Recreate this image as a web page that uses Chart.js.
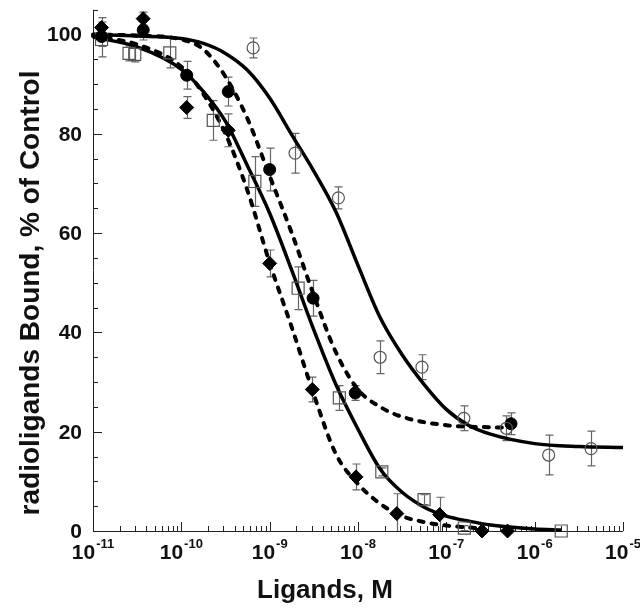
<!DOCTYPE html>
<html>
<head>
<meta charset="utf-8">
<script src="https://cdn.jsdelivr.net/npm/chart.js@4.4.0/dist/chart.umd.min.js"></script>
<style>
  body { margin: 0; background: #fff; }
  #wrap { width: 640px; height: 610px; position: relative; }
</style>
</head>
<body>
<div id="wrap"><canvas id="chart"></canvas></div>
<script>
// measured points: concentration (M), bound (% of control), error (+/-)
const openCircleX = [6.5e-10, 1.94e-9, 6.0e-9, 1.78e-8, 5.3e-8, 1.58e-7, 4.78e-7, 1.44e-6, 4.35e-6];
const openCircleY = [97.3, 76.1, 67.1, 35.0, 33.0, 22.7, 20.7, 15.3, 16.6];
const openCircleErr = [2, 4, 2.2, 3.3, 2.5, 2.5, 2.5, 4, 3.5];

const filledCircleX = [1.25e-11, 3.7e-11, 1.15e-10, 3.4e-10, 1.0e-9, 3.1e-9, 9.3e-9, 5.4e-7];
const filledCircleY = [99.6, 100.9, 91.8, 88.5, 72.8, 46.9, 27.8, 21.6];
const filledCircleErr = [2, 2, 2.8, 2.9, 4.3, 3.6, 1.5, 2.2];

const squareX = [1.25e-11, 2.56e-11, 2.97e-11, 7.4e-11, 2.3e-10, 6.8e-10, 2.1e-9, 6.15e-9, 1.86e-8, 5.6e-8, 1.6e-7, 2.0e-6];
const squareY = [99, 96.2, 96, 96.3, 82.7, 70.4, 48.9, 26.8, 11.9, 6.3, 0.6, 0];
const squareErr = [3.5, 1.5, 1.5, 3, 4, 5, 4.3, 2.5, 0.8, 1, 0.5, 0];

const diamondX = [1.25e-11, 3.7e-11, 1.15e-10, 3.4e-10, 1.0e-9, 3.04e-9, 9.5e-9, 2.75e-8, 8.4e-8, 2.54e-7, 4.93e-7];
const diamondY = [101.4, 103.2, 85.3, 80.7, 53.9, 28.5, 10.9, 3.5, 3.3, 0, 0];
const diamondErr = [2, 1.3, 2.2, 3.3, 2.7, 2.5, 2.6, 4, 3.5, 0, 0];

// fitted curves
const fitOpenX = [1e-11, 3.16e-11, 1e-10, 1.78e-10, 3.16e-10, 5.62e-10, 1e-9, 1.78e-9, 3.16e-9, 5.62e-9, 1e-8, 1.78e-8, 3.16e-8, 5.62e-8, 1e-7, 1.78e-7, 3.16e-7, 1e-6, 3.16e-6, 1e-5];
const fitOpenY = [100, 99.7, 99.2, 98.2, 96.2, 92.8, 87.2, 79.8, 72.5, 64.3, 53.5, 43, 35.5, 29.5, 24.5, 21.3, 19.5, 17.6, 17, 16.8];

const fitFilledX = [1e-11, 3.16e-11, 1e-10, 1.78e-10, 3.16e-10, 5.62e-10, 1e-9, 1.78e-9, 3.16e-9, 5.62e-9, 1e-8, 1.78e-8, 3.16e-8, 1e-7, 3.16e-7, 5.4e-7];
const fitFilledY = [100, 99.8, 99, 97, 91.5, 83, 71.5, 60, 47.5, 36, 28.5, 25, 23, 21.3, 20.9, 20.8];

const fitSquareX = [1e-11, 3.16e-11, 1e-10, 1.78e-10, 3.16e-10, 5.62e-10, 1e-9, 1.78e-9, 3.16e-9, 5.62e-9, 1e-8, 1.78e-8, 3.16e-8, 5.62e-8, 1e-7, 1.78e-7, 3.16e-7, 1e-6, 2e-6];
const fitSquareY = [99.5, 97.5, 93, 88.5, 82.5, 73.5, 64, 52.5, 40.5, 29.5, 20.5, 12.5, 7.8, 4.8, 3, 2, 1.2, 0.4, 0.2];

const fitDiamondX = [1e-11, 3.16e-11, 1e-10, 1.78e-10, 3.16e-10, 5.62e-10, 1e-9, 1.78e-9, 3.16e-9, 5.62e-9, 1e-8, 1.78e-8, 3.16e-8, 5.62e-8, 1e-7, 2.2e-7];
const fitDiamondY = [99.7, 98, 93.5, 88, 80, 68.5, 54, 41, 27.5, 15.5, 9.5, 5.5, 3, 1.8, 1.1, 0.6];

const xDecades = [-11, -10, -9, -8, -7, -6, -5];
const yTicks = [0, 20, 40, 60, 80, 100];

const FONT = "'Liberation Sans', Arial, sans-serif";

function pts(xs, ys) {
  return xs.map((x, i) => ({ x: x, y: ys[i] }));
}

const errorSets = [
  { x: openCircleX, y: openCircleY, e: openCircleErr },
  { x: filledCircleX, y: filledCircleY, e: filledCircleErr },
  { x: squareX, y: squareY, e: squareErr },
  { x: diamondX, y: diamondY, e: diamondErr },
];

const axesPlugin = {
  id: "axes",
  beforeDatasetsDraw(chart) {
    const { ctx, chartArea: a, scales: { x, y } } = chart;
    ctx.save();
    ctx.strokeStyle = "#222";
    ctx.lineWidth = 1;
    ctx.beginPath();
    ctx.moveTo(a.left + 0.5, a.top);
    ctx.lineTo(a.left + 0.5, a.bottom + 0.5);
    ctx.lineTo(a.right, a.bottom + 0.5);
    ctx.stroke();

    // x ticks, pointing up into the plot
    ctx.beginPath();
    xDecades.forEach((d) => {
      const px = Math.round(x.getPixelForValue(Math.pow(10, d))) + 0.5;
      ctx.moveTo(px, a.bottom);
      ctx.lineTo(px, a.bottom - 9);
      if (d < -5) {
        for (let m = 2; m < 10; m++) {
          const mx = Math.round(x.getPixelForValue(m * Math.pow(10, d))) + 0.5;
          ctx.moveTo(mx, a.bottom);
          ctx.lineTo(mx, a.bottom - 5);
        }
      }
    });
    // y ticks, pointing right
    for (let v = 0; v <= 105; v += 5) {
      const py = Math.round(y.getPixelForValue(v)) + 0.5;
      ctx.moveTo(a.left, py);
      ctx.lineTo(a.left + (v % 20 === 0 ? 9 : 5), py);
    }
    ctx.stroke();

    // tick labels
    ctx.fillStyle = "#111";
    ctx.font = "bold 21px " + FONT;
    ctx.textAlign = "right";
    ctx.textBaseline = "middle";
    yTicks.forEach((v) => {
      ctx.fillText(String(v), 82, y.getPixelForValue(v) + 1);
    });
    ctx.textAlign = "left";
    ctx.textBaseline = "alphabetic";
    xDecades.forEach((d) => {
      const px = x.getPixelForValue(Math.pow(10, d));
      ctx.font = "bold 21px " + FONT;
      const w = ctx.measureText("10").width;
      ctx.font = "bold 13px " + FONT;
      const we = ctx.measureText(String(d)).width;
      const left = px - (w + 1 + we) / 2;
      ctx.font = "bold 21px " + FONT;
      ctx.fillText("10", left, 559);
      ctx.font = "bold 13px " + FONT;
      ctx.fillText(String(d), left + w + 1, 548);
    });

    // axis titles
    ctx.font = "bold 26px " + FONT;
    ctx.textAlign = "center";
    ctx.fillText("Ligands, M", 325, 598);
    ctx.save();
    ctx.translate(31, 293);
    ctx.rotate(-Math.PI / 2);
    ctx.font = "bold 28px " + FONT;
    ctx.textBaseline = "middle";
    ctx.fillText("radioligands Bound, % of Control", 0, 0);
    ctx.restore();

    // error bars
    ctx.strokeStyle = "#666";
    ctx.lineWidth = 1.2;
    ctx.beginPath();
    errorSets.forEach((s) => {
      s.x.forEach((xv, i) => {
        const err = s.e[i];
        if (!err) return;
        const px = Math.round(x.getPixelForValue(xv)) + 0.5;
        const top = y.getPixelForValue(s.y[i] + err);
        const lowVal = s.y[i] - err;
        const bot = y.getPixelForValue(Math.max(0, lowVal));
        ctx.moveTo(px, top);
        ctx.lineTo(px, bot);
        ctx.moveTo(px - 4, top);
        ctx.lineTo(px + 4, top);
        if (lowVal > 0) {
          ctx.moveTo(px - 4, bot);
          ctx.lineTo(px + 4, bot);
        }
      });
    });
    ctx.stroke();
    ctx.restore();
  },
};

const curveStyle = {
  showLine: true,
  pointRadius: 0,
  borderColor: "#000",
  borderWidth: 3.5,
  cubicInterpolationMode: "monotone",
  fill: false,
  clip: false,
};

const dashStyle = { borderDash: [5, 8], borderCapStyle: "round", borderWidth: 4 };

new Chart(document.getElementById("chart"), {
  type: "scatter",
  data: {
    datasets: [
      {
        label: "open circles",
        data: pts(openCircleX, openCircleY),
        pointStyle: "circle",
        pointRadius: 6,
        backgroundColor: "rgba(0,0,0,0)",
        borderColor: "#555",
        borderWidth: 1.2,
        clip: false,
      },
      {
        label: "filled circles",
        data: pts(filledCircleX, filledCircleY),
        pointStyle: "circle",
        pointRadius: 6,
        backgroundColor: "#000",
        borderColor: "#000",
        borderWidth: 1,
        clip: false,
      },
      {
        label: "open squares",
        data: pts(squareX, squareY),
        pointStyle: "rect",
        pointRadius: 8.5,
        backgroundColor: "rgba(0,0,0,0)",
        borderColor: "#555",
        borderWidth: 1.2,
        clip: false,
      },
      {
        label: "diamonds",
        data: pts(diamondX, diamondY),
        pointStyle: "rectRot",
        pointRadius: 7,
        backgroundColor: "#000",
        borderColor: "#000",
        borderWidth: 1,
        clip: false,
      },
      Object.assign({ label: "fit open circles", data: pts(fitOpenX, fitOpenY) }, curveStyle),
      Object.assign({ label: "fit filled circles", data: pts(fitFilledX, fitFilledY) }, curveStyle, dashStyle),
      Object.assign({ label: "fit squares", data: pts(fitSquareX, fitSquareY) }, curveStyle),
      Object.assign({ label: "fit diamonds", data: pts(fitDiamondX, fitDiamondY) }, curveStyle, dashStyle),
    ],
  },
  options: {
    responsive: true,
    maintainAspectRatio: false,
    animation: false,
    layout: { padding: { left: 93, right: 17, top: 3, bottom: 79 } },
    plugins: { legend: { display: false }, tooltip: { enabled: false } },
    scales: {
      x: { type: "logarithmic", min: 1e-11, max: 1e-5, display: false },
      y: { type: "linear", min: 0, max: 105, display: false },
    },
  },
  plugins: [axesPlugin],
});
</script>
</body>
</html>
